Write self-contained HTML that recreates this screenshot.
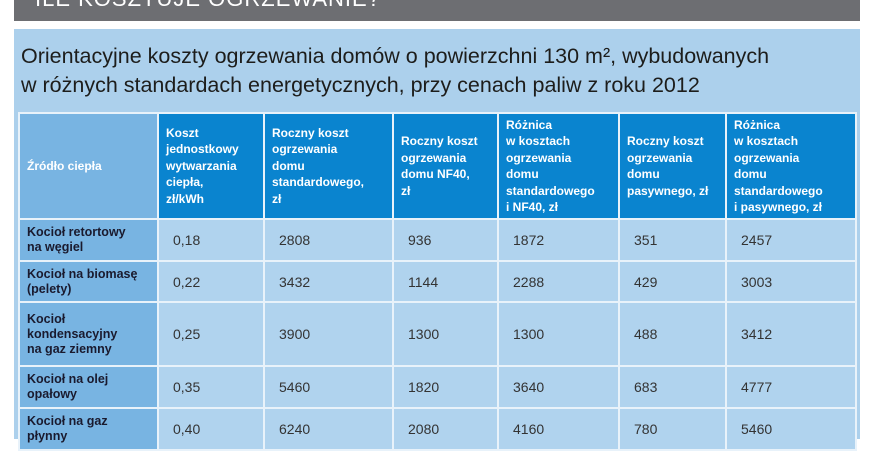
<!DOCTYPE html>
<html><head><meta charset="utf-8"><style>
body{margin:0;width:870px;height:430px;background:#fff;position:relative;overflow:hidden;font-family:"Liberation Sans","DejaVu Sans",sans-serif;}
.bar{position:absolute;left:14px;top:0;width:846px;height:21px;background:#6d6e72;overflow:hidden;}
.bar span{position:absolute;left:21px;top:-12px;font-size:22px;color:#fff;letter-spacing:1px;white-space:nowrap;line-height:22px;}
.panel{position:absolute;left:14px;top:29px;width:846px;height:410px;background:#acd0ec;}
.title{position:absolute;left:21px;top:42px;font-size:21.5px;line-height:29px;color:#1d1d1b;white-space:nowrap;}
table{position:absolute;left:18px;top:112px;border-collapse:collapse;table-layout:fixed;}
td{border:2px solid #e8f2fa;padding:0 0 0 9px;font-size:14px;color:#333;vertical-align:middle;}
tr.h td{background:#0a84cf;color:#fff;font-weight:bold;font-size:12px;line-height:16.5px;height:104px;padding-left:7px;}
tr.h td.f{background:#78b4e2;}
td.f{background:#78b4e2;font-weight:bold;color:#1a1a2e;font-size:12.5px;line-height:15px;padding-left:7px;}
td.v{background:#b0d3ee;padding-left:14px;}
</style></head><body>
<div class="bar"><span>ILE KOSZTUJE OGRZEWANIE?</span></div>
<div class="panel"></div>
<div class="title">Orientacyjne koszty ogrzewania domów o powierzchni 130 m², wybudowanych<br>w różnych standardach energetycznych, przy cenach paliw z roku 2012</div>
<table>
<colgroup><col style="width:139px"><col style="width:106px"><col style="width:129px"><col style="width:105px"><col style="width:121px"><col style="width:107px"><col style="width:130px"></colgroup>
<tr class="h"><td class="f">Źródło ciepła</td><td>Koszt<br>jednostkowy<br>wytwarzania<br>ciepła,<br>zł/kWh</td><td>Roczny koszt<br>ogrzewania<br>domu<br>standardowego,<br>zł</td><td>Roczny koszt<br>ogrzewania<br>domu NF40,<br>zł</td><td>Różnica<br>w kosztach<br>ogrzewania<br>domu<br>standardowego<br>i NF40, zł</td><td>Roczny koszt<br>ogrzewania<br>domu<br>pasywnego, zł</td><td>Różnica<br>w kosztach<br>ogrzewania<br>domu<br>standardowego<br>i pasywnego, zł</td></tr>
<tr style="height:42px"><td class="f">Kocioł retortowy<br>na węgiel</td><td class="v">0,18</td><td class="v">2808</td><td class="v">936</td><td class="v">1872</td><td class="v">351</td><td class="v">2457</td></tr>
<tr style="height:41px"><td class="f">Kocioł na biomasę<br>(pelety)</td><td class="v">0,22</td><td class="v">3432</td><td class="v">1144</td><td class="v">2288</td><td class="v">429</td><td class="v">3003</td></tr>
<tr style="height:64px"><td class="f">Kocioł<br>kondensacyjny<br>na gaz ziemny</td><td class="v">0,25</td><td class="v">3900</td><td class="v">1300</td><td class="v">1300</td><td class="v">488</td><td class="v">3412</td></tr>
<tr style="height:42px"><td class="f">Kocioł na olej<br>opałowy</td><td class="v">0,35</td><td class="v">5460</td><td class="v">1820</td><td class="v">3640</td><td class="v">683</td><td class="v">4777</td></tr>
<tr style="height:42px"><td class="f">Kocioł na gaz<br>płynny</td><td class="v">0,40</td><td class="v">6240</td><td class="v">2080</td><td class="v">4160</td><td class="v">780</td><td class="v">5460</td></tr>
</table>
</body></html>
